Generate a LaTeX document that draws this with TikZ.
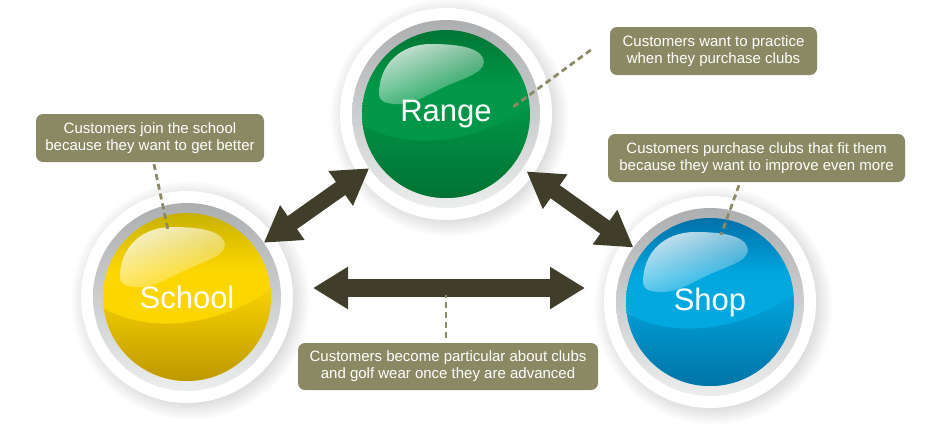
\documentclass[tikz,border=0pt]{standalone}
\usepackage{fontspec}
\setmainfont{Liberation Sans}
\usetikzlibrary{arrows.meta,calc,fadings}
\definecolor{calloutc}{RGB}{138,137,100}
\definecolor{dashc}{RGB}{140,139,102}
\definecolor{arrowc}{RGB}{64,62,42}
\definecolor{ringtop}{RGB}{172,174,176}
\definecolor{ringbot}{RGB}{236,237,237}
\definecolor{gTop}{RGB}{0,118,52}
\definecolor{gMid}{RGB}{0,152,72}
\definecolor{gBot}{RGB}{0,112,50}
\definecolor{yTop}{RGB}{200,178,0}
\definecolor{yMid}{RGB}{252,214,0}
\definecolor{yBot}{RGB}{184,148,0}
\definecolor{bTop}{RGB}{0,112,168}
\definecolor{bMid}{RGB}{0,168,224}
\definecolor{bBot}{RGB}{0,112,162}
\pgfdeclareradialshading{haloshadow}{\pgfpointorigin}{color(0bp)=(black!14); color(21bp)=(black!14); color(25bp)=(white); color(50bp)=(white)}
\pgfdeclareverticalshading{ballG}{100bp}{color(0bp)=(gMid); color(58bp)=(gMid); color(75bp)=(gTop); color(100bp)=(gTop)}
\pgfdeclareverticalshading{ballY}{100bp}{color(0bp)=(yMid); color(58bp)=(yMid); color(75bp)=(yTop); color(100bp)=(yTop)}
\pgfdeclareverticalshading{ballB}{100bp}{color(0bp)=(bMid); color(58bp)=(bMid); color(75bp)=(bTop); color(100bp)=(bTop)}
\tikzfading[name=glossfade, top color=transparent!25, bottom color=transparent!92]
\tikzfading[name=wavefade, top color=transparent!100, bottom color=transparent!0]
\tikzset{
  ballnode/.style={circle, minimum size=168pt, inner sep=0pt, outer sep=10pt, text=white, font=\fontsize{31}{31}\selectfont},
  callout/.style={rounded corners=7pt, fill=calloutc, text=white, align=center, inner sep=0pt, minimum height=48pt, font=\fontsize{15}{16.8}\selectfont},
  dashline/.style={draw=dashc, line width=2.8pt, dash pattern=on 6pt off 4pt},
  bigarrow/.style={draw=arrowc, line width=16pt, {Triangle[length=35pt, width=40pt]}-{Triangle[length=35pt, width=40pt]}},
}
\newcommand\golfball[6]{%
  \begin{scope}[shift={#2}]
    \shade[shading=haloshadow] (3,3) circle[radius=120pt];
    \fill[white] (0,0) circle[radius=106pt];
    \shade[top color=ringtop, bottom color=ringbot] (0,0) circle[radius=94pt];
    \shade[shading=#4] (0,0) circle[radius=84pt];
    \begin{scope}
      \clip (0,0) circle[radius=84pt];
      \fill[#6, path fading=wavefade] (-92,6) .. controls (-40,42) and (40,28) .. (92,-14) -- (92,92) -- (-92,92) -- cycle;
    \end{scope}
    \fill[white, path fading=glossfade, fading angle=35] (-67,-20) .. controls (-67,-50) and (-45,-70) .. (-15,-70) .. controls (10,-70) and (32,-67) .. (37,-56) .. controls (42,-44) and (25,-38) .. (5,-30) .. controls (-15,-22) and (-32,-8) .. (-52,-10) .. controls (-63,-11) and (-67,-14) .. cycle;
  \end{scope}
  \node[ballnode] (#1) at #2 {#3};
}
\begin{document}
\begin{tikzpicture}[x=1pt, y=-1pt]
  \useasboundingbox (0,0) rectangle (940,445);
  \fill[white] (0,0) rectangle (940,445);

  \golfball{range}{(446,114)}{Range}{ballG}{gMid}{gBot}
  \golfball{school}{(187,297)}{School}{ballY}{yMid}{yBot}
  \golfball{shop}{(710,302)}{Shop}{ballB}{bMid}{bBot}

  % arrows
  \coordinate (hL) at (313,288);
  \coordinate (hR) at (585,288);
  \draw[bigarrow] (school) -- (range);
  \draw[bigarrow, shorten <=5pt] (range) -- (shop);
  \draw[bigarrow, line width=18pt] (hL) -- (hR);

  % callouts
  \node[callout, minimum width=228pt] (cs) at (150,138) {Customers join the school\\because they want to get better};
  \node[callout, minimum width=207pt] (cr) at (713.5,51) {Customers want to practice\\when they purchase clubs};
  \node[callout, minimum width=297pt] (csh) at (756.5,158) {Customers purchase clubs that fit them\\because they want to improve even more};
  \node[callout, minimum width=300pt, minimum height=47pt] (cb) at (448,366.5) {Customers become particular about clubs\\and golf wear once they are advanced};

  % dashed leaders
  \coordinate (csTail) at ($(cs.south)+(4,2)$);
  \coordinate (schoolDot) at ($(school)+(-19,-67)$);
  \coordinate (crTail) at ($(cr.west)+(-19,-1)$);
  \coordinate (rangeDot) at ($(range)+(67,-7)$);
  \coordinate (cshTail) at ($(csh.south)+(-17.5,3)$);
  \coordinate (shopDot) at ($(shop)+(11,-67)$);
  \coordinate (cbTail) at ($(cb.north)+(-2,-5)$);
  \coordinate (arrowDot) at (446,295);
  \draw[dashline] (csTail) -- (schoolDot);
  \draw[dashline] (crTail) -- (rangeDot);
  \draw[dashline] (cshTail) -- (shopDot);
  \draw[dashline] (cbTail) -- (arrowDot);
\end{tikzpicture}
\end{document}
